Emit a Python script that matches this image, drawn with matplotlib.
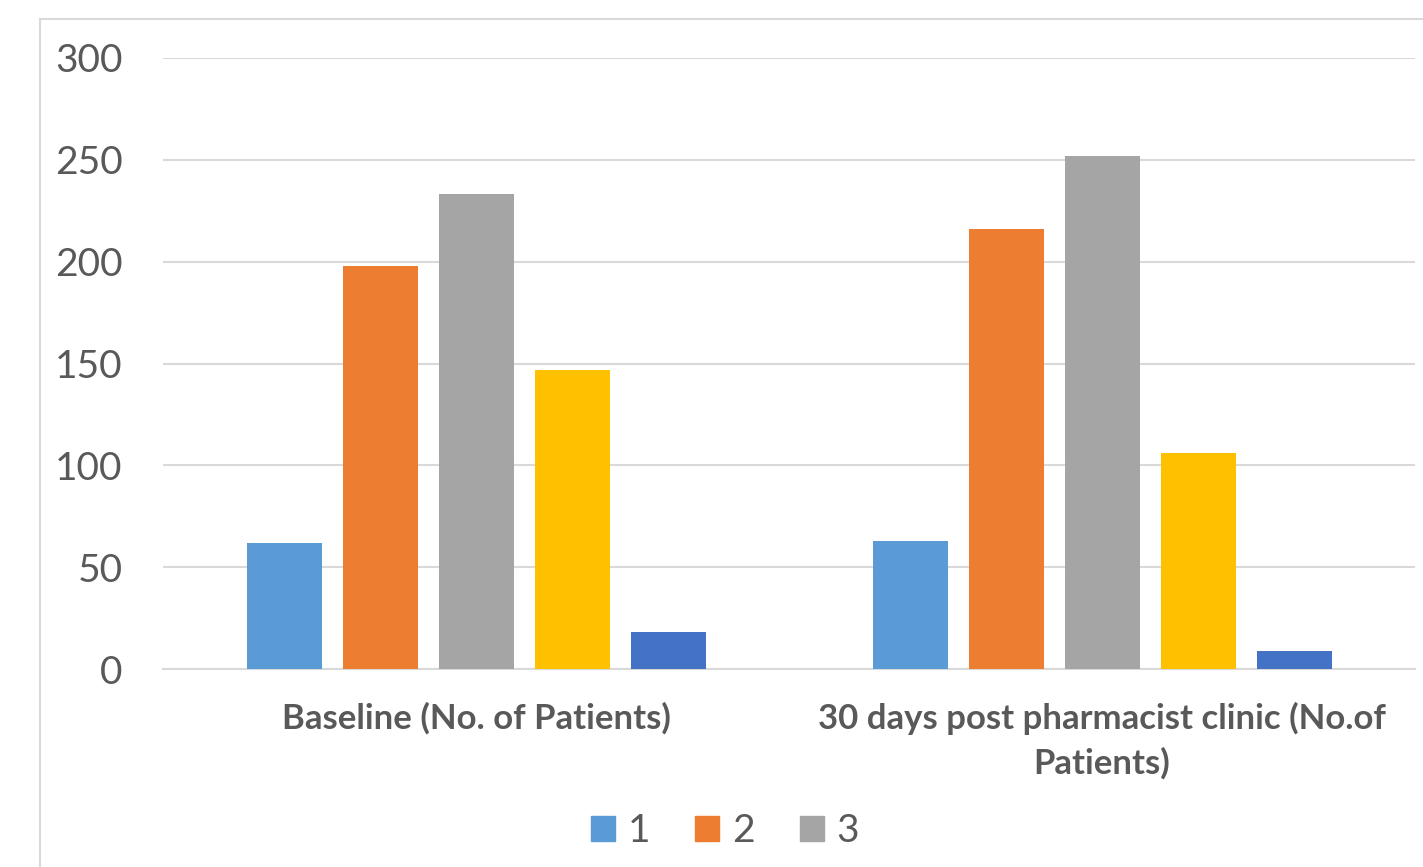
import matplotlib.pyplot as plt
import numpy as np
from matplotlib.patches import Rectangle, Patch

categories = ['Baseline (No. of Patients)', '30 days post pharmacist clinic (No.of\nPatients)']
series_names = ['1', '2', '3', '4', '5']
series_values = [
    [62, 63],
    [198, 216],
    [233, 252],
    [147, 106],
    [18, 9],
]
colors = ['#5B9BD5', '#ED7D31', '#A5A5A5', '#FFC000', '#4472C4']
yticks = [0, 50, 100, 150, 200, 250, 300]

plt.rcParams['font.family'] = ['Lato', 'DejaVu Sans']

W, H = 1423, 867
fig = plt.figure(figsize=(W / 100, H / 100), dpi=100)
ax = fig.add_axes([163 / W, 1 - 669 / H, (1415 - 163) / W, (669 - 58) / H])

# chart frame (cut off at right and bottom like the original)
fig.patches.append(Rectangle((40 / W, -0.1), 1.2, 1 - 19 / H + 0.1, transform=fig.transFigure,
                             fill=False, edgecolor='#D9D9D9', linewidth=1.5))

x = np.arange(len(categories))
step = 96 / 626
width = 75 / 626
for i, (name, vals) in enumerate(zip(series_names, series_values)):
    ax.bar(x + (i - 2) * step, vals, width, color=colors[i], label=name, zorder=3)

ax.set_xlim(-0.5, 1.5)
ax.set_ylim(0, 300)
ax.set_yticks(yticks)
ax.grid(axis='y', color='#D9D9D9', linewidth=1.5, zorder=0)
for s in ['top', 'right', 'left']:
    ax.spines[s].set_visible(False)
ax.spines['bottom'].set_color('#D9D9D9')
ax.spines['bottom'].set_linewidth(1.5)
ax.tick_params(axis='both', length=0)
ax.tick_params(axis='y', labelsize=28, labelcolor='#595959', pad=29)
ax.set_xticks(x)
ax.set_xticklabels(categories, fontsize=25, fontweight='bold', color='#595959', linespacing=1.45)
ax.tick_params(axis='x', pad=24)

handles = [Patch(color=colors[i]) for i in range(3)]
fig.legend(handles, series_names[:3], loc='center', bbox_to_anchor=(725 / W, 1 - 831 / H),
           ncol=3, frameon=False, fontsize=28, labelcolor='#595959',
           handlelength=0.62, handleheight=0.62, handletextpad=0.33, columnspacing=1.15)

fig.savefig('out.png', dpi=100)
